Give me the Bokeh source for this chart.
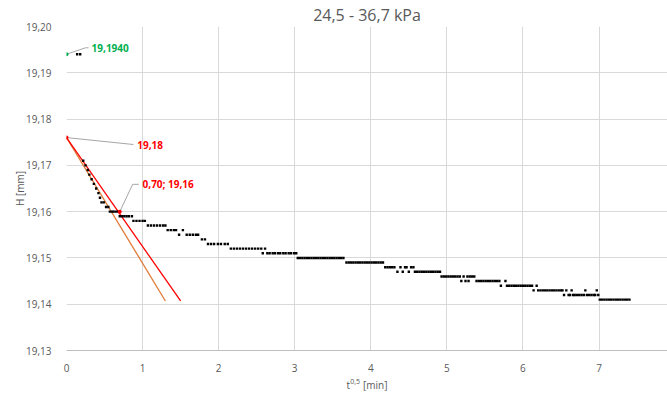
from bokeh.plotting import figure
from bokeh.models import Range1d, FixedTicker, CustomJSTickFormatter, Label, ColumnDataSource
from bokeh.embed import file_html
from bokeh.resources import INLINE

# ---- data ----
title_text = "24,5 - 36,7 kPa"
x_title = "t\u00a0\u00a0\u00a0\u00a0 [min]"   # gap holds the "0,5" superscript
x_title_sup = "0,5"
y_title = "H [mm]"
y_ticks = [19.13, 19.14, 19.15, 19.16, 19.17, 19.18, 19.19, 19.20]
x_ticks = [0, 1, 2, 3, 4, 5, 6, 7]

# measured H [mm] vs sqrt(t) [min^0.5], grouped by reading level
levels = {
    19.194: [0.14, 0.18],
    19.171: [0.22],
    19.170: [0.25],
    19.169: [0.28],
    19.168: [0.30],
    19.167: [0.33],
    19.166: [0.36],
    19.165: [0.39],
    19.164: [0.42],
    19.163: [0.44],
    19.162: [0.46, 0.49],
    19.161: [0.52, 0.55],
    19.160: [0.57, 0.60, 0.62, 0.65, 0.68],
    19.159: [0.70, 0.73, 0.76, 0.79, 0.82, 0.86],
    19.158: [0.88, 0.92, 0.96, 1.00, 1.03],
    19.157: [1.07, 1.11, 1.15, 1.19, 1.23, 1.27, 1.30],
    19.156: [1.33, 1.37, 1.41, 1.44, 1.53],
    19.155: [1.48, 1.58, 1.62, 1.66, 1.70, 1.73],
    19.154: [1.78, 1.82],
    19.153: [1.86, 1.90, 1.94, 1.99, 2.03, 2.08, 2.12],
    19.152: [2.16, 2.20, 2.24, 2.28, 2.32, 2.36, 2.40, 2.44, 2.48, 2.52, 2.56, 2.61],
    19.151: [2.58, 2.64, 2.67, 2.71, 2.74, 2.78, 2.81, 2.85, 2.88, 2.92, 2.95, 2.99, 3.02],
    19.150: [3.04, 3.07, 3.10, 3.13, 3.16, 3.19, 3.22, 3.25, 3.28, 3.31, 3.34, 3.37, 3.40,
             3.43, 3.46, 3.49, 3.52, 3.55, 3.58, 3.61, 3.64],
    19.149: [3.68, 3.71, 3.74, 3.77, 3.80, 3.83, 3.86, 3.89, 3.92, 3.95, 3.98, 4.01, 4.04,
             4.07, 4.10, 4.13, 4.16],
    19.148: [4.19, 4.22, 4.25, 4.28, 4.31, 4.39, 4.45, 4.47, 4.53, 4.56],
    19.147: [4.35, 4.42, 4.50, 4.58, 4.61, 4.64, 4.67, 4.70, 4.73, 4.76, 4.79, 4.82, 4.85,
             4.88, 4.91],
    19.146: [4.93, 4.96, 4.99, 5.02, 5.05, 5.08, 5.11, 5.14, 5.17, 5.22, 5.27, 5.30, 5.33, 5.36],
    19.145: [5.19, 5.245, 5.285, 5.39, 5.42, 5.45, 5.48, 5.51, 5.54, 5.57, 5.60, 5.63, 5.66,
             5.69, 5.77],
    19.144: [5.71, 5.79, 5.82, 5.85, 5.88, 5.91, 5.94, 5.97, 6.00, 6.03, 6.06, 6.09, 6.12, 6.18],
    19.143: [6.14, 6.20, 6.23, 6.26, 6.29, 6.32, 6.35, 6.38, 6.41, 6.44, 6.47, 6.50, 6.52,
             6.57, 6.64, 6.82, 6.97],
    19.142: [6.54, 6.60, 6.62, 6.66, 6.68, 6.71, 6.74, 6.77, 6.80, 6.84, 6.87, 6.90, 6.93,
             6.95, 6.99],
    19.141: [7.01, 7.04, 7.07, 7.10, 7.13, 7.16, 7.19, 7.22, 7.25, 7.28, 7.31, 7.34, 7.37, 7.40],
}
sqrt_t = [x for h, xs in levels.items() for x in xs]
H = [h for h, xs in levels.items() for x in xs]

# construction lines (sqrt(t) method)
red_x = [0.0, 1.50]
red_y = [19.176, 19.1407]
orange_x = [0.0, 1.30]
orange_y = [19.176, 19.1407]

green_pt = (0.0, 19.194)
red_pts_x = [0.0, 0.70]
red_pts_y = [19.176, 19.16]

FONT = "Open Sans"
GREY = "#595959"

p = figure(width=667, height=394, output_backend="svg", toolbar_location=None,
           x_range=Range1d(0, 7.9), y_range=Range1d(19.13, 19.20),
           min_border_left=66, min_border_right=0, min_border_top=0, min_border_bottom=44)
p.outline_line_color = None
p.background_fill_color = "white"
p.border_fill_color = "white"

p.title.text = title_text
p.title.align = "center"
p.title.text_font = FONT
p.title.text_font_size = "16px"
p.title.text_font_style = "normal"
p.title.text_color = GREY
p.title.offset = 0
p.title.standoff = 2

p.xaxis.ticker = FixedTicker(ticks=x_ticks)
p.yaxis.ticker = FixedTicker(ticks=y_ticks)
p.yaxis.formatter = CustomJSTickFormatter(code="return tick.toFixed(2).replace('.', ',');")
for ax in (p.xaxis, p.yaxis):
    ax.major_tick_line_color = None
    ax.minor_tick_line_color = None
    ax.major_label_text_font = FONT
    ax.major_label_text_font_size = "10px"
    ax.major_label_text_color = GREY
    ax.axis_label_text_font = FONT
    ax.axis_label_text_font_size = "10px"
    ax.axis_label_text_font_style = "normal"
    ax.axis_label_text_color = GREY
p.yaxis.axis_line_color = None
p.xaxis.axis_line_color = "#BFBFBF"
p.yaxis.major_label_standoff = 9
p.xaxis.major_label_standoff = 7
p.yaxis.axis_label = y_title
p.yaxis.axis_label_standoff = -4
p.xaxis.axis_label = x_title
p.xaxis.axis_label_standoff = 3

p.grid.grid_line_color = "#D9D9D9"
p.grid.grid_line_width = 1

# superscript of the x-axis title (placed in a side panel so it is not clipped)
p.add_layout(Label(x=3.73, y=19.1232, text=x_title_sup, text_font=FONT,
                   text_font_size="7px", text_color=GREY, text_align="left",
                   text_baseline="alphabetic"), "left")

# construction lines
p.line(orange_x, orange_y, line_color="#E07B39", line_width=1.3)
p.line(red_x, red_y, line_color="#FF0000", line_width=1.3)

# measurements
src = ColumnDataSource(dict(x=sqrt_t, y=H))
p.scatter("x", "y", source=src, marker="square", size=2.4, fill_color="black",
          line_color=None)

# leader lines for data labels
p.line([0.0, 0.25, 0.29], [19.194, 19.1954, 19.1954], line_color="#A6A6A6", line_width=1)
p.line([0.0, 0.88], [19.176, 19.1745], line_color="#A6A6A6", line_width=1)
p.line([0.70, 0.87, 0.95], [19.16, 19.1659, 19.1659], line_color="#A6A6A6", line_width=1)

# highlighted points
p.scatter([green_pt[0]], [green_pt[1]], marker="circle", size=4, fill_color="#00B050",
          line_color=None)
p.scatter(red_pts_x, red_pts_y, marker="circle", size=4, fill_color="#FF0000",
          line_color=None)

p.add_layout(Label(x=0.33, y=19.1954, text="19,1940", text_font=FONT, text_font_size="10px",
                   text_font_style="bold", text_color="#00B050", text_baseline="middle"))
p.add_layout(Label(x=0.93, y=19.1743, text="19,18", text_font=FONT, text_font_size="10px",
                   text_font_style="bold", text_color="#FF0000", text_baseline="middle"))
p.add_layout(Label(x=1.00, y=19.1659, text="0,70; 19,16", text_font=FONT, text_font_size="10px",
                   text_font_style="bold", text_color="#FF0000", text_baseline="middle"))

open("out.html", "w").write(file_html(p, INLINE))
